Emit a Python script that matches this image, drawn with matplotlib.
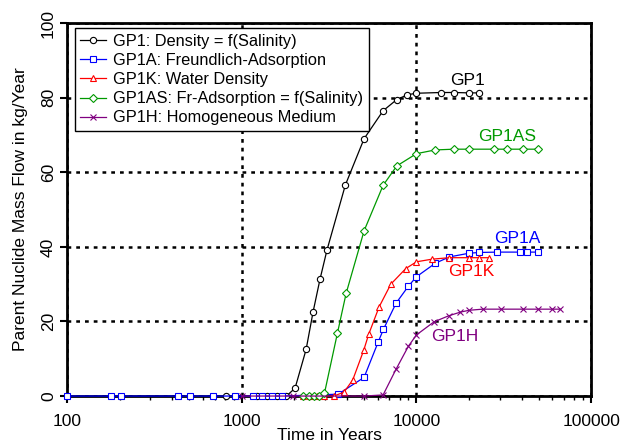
import matplotlib
matplotlib.use("Agg")
import matplotlib.pyplot as plt
from matplotlib.ticker import LogLocator, NullFormatter, FixedLocator

plt.rcParams['font.family'] = ['Liberation Sans', 'DejaVu Sans']

# Mass flow of the parent nuclide for the five model variants
gp1_t = [811, 1230, 1390, 1590, 1800, 2018, 2335, 2560, 2806, 3076, 3917, 5012,
         6440, 7710, 8870, 10000, 13840, 16400, 20000, 22800]
gp1_q = [0, 0, 0, 0, 0, 2.1, 12.5, 22.6, 31.4, 39.2, 56.6, 69.0,
         76.5, 79.5, 80.8, 81.2, 81.4, 81.4, 81.3, 81.3]

gp1a_t = [100, 178, 203, 432, 506, 686, 916, 1155, 1300, 1490, 1690, 3560, 5012,
          6050, 6470, 7640, 9000, 10000, 12800, 15400, 20000, 22800, 29000,
          39200, 42700, 49900]
gp1a_q = [0, 0, 0, 0, 0, 0, 0, 0, 0, 0, 0, 0.5, 5.0,
          14.6, 17.9, 24.9, 29.5, 32.0, 35.6, 37.3, 38.3, 38.5, 38.6,
          38.6, 38.6, 38.6]

gp1k_t = [2250, 2450, 2700, 2950, 3350, 3840, 4315, 4990, 5330, 6110, 7130,
          8690, 10000, 12250, 15400, 20000, 22800, 26100]
gp1k_q = [0, 0, 0, 0, 0, 1.0, 4.3, 12.3, 16.6, 23.9, 30.0,
          34.2, 36.0, 36.7, 37.1, 37.1, 37.1, 37.1]

gp1as_t = [2240, 2410, 2590, 2780, 2975, 3525, 3955, 5012, 6440, 7710, 10000,
           12800, 16400, 20000, 27900, 32900, 40600, 49900]
gp1as_q = [0, 0, 0, 0, 0.8, 16.8, 27.5, 44.3, 56.5, 61.7, 65.0,
           66.0, 66.2, 66.2, 66.2, 66.2, 66.2, 66.2]

gp1h_t = [1000, 1960, 5012, 6440, 7640, 9000, 10000, 12600, 15250, 17800, 20000,
          23900, 30300, 40600, 49900, 59400, 66400]
gp1h_q = [0, 0, 0, 0.3, 7.2, 13.4, 16.4, 19.9, 21.5, 22.5, 23.0,
          23.3, 23.3, 23.3, 23.3, 23.3, 23.3]

green = '#009900'
purple = '#800080'

fig = plt.figure(figsize=(6.21, 4.45), dpi=100)
ax = fig.add_axes([0.108, 0.110, 0.844, 0.838])

common = dict(lw=0.9, ms=4.5, mew=0.8, clip_on=False, zorder=4)
ax.plot(gp1_t, gp1_q, '-o', color='black', mfc='white', label='GP1: Density = f(Salinity)', **common)
ax.plot(gp1a_t, gp1a_q, '-s', color='blue', mfc='white', label='GP1A: Freundlich-Adsorption', **common)
ax.plot(gp1k_t, gp1k_q, '-^', color='red', mfc='white', label='GP1K: Water Density', **common)
ax.plot(gp1as_t, gp1as_q, '-D', color=green, mfc='white', label='GP1AS: Fr-Adsorption = f(Salinity)',
        lw=0.9, ms=4, mew=0.8, clip_on=False, zorder=4)
ax.plot(gp1h_t, gp1h_q, '-x', color=purple, label='GP1H: Homogeneous Medium', **common)

ax.set_xscale('log')
ax.set_xlim(100, 100000)
ax.set_ylim(0, 100)
ax.xaxis.set_major_locator(FixedLocator([100, 1000, 10000, 100000]))
ax.xaxis.set_minor_locator(LogLocator(base=10, subs=range(2, 10)))
ax.xaxis.set_minor_formatter(NullFormatter())
ax.set_xticklabels(['100', '1000', '10000', '100000'])
ax.set_yticks([0, 20, 40, 60, 80, 100])

ax.grid(which='major', color='black', linestyle=(0, (1.5, 2)), lw=1.8)
for s in ax.spines.values():
    s.set_linewidth(2)

ax.tick_params(axis='both', which='major', direction='out', length=5, width=1.5,
               labelsize=12.5, colors='black')
ax.tick_params(axis='x', which='minor', direction='out', length=3, width=1)
ax.tick_params(axis='y', labelrotation=90, pad=3)
for lab in ax.get_yticklabels():
    lab.set_va('center')
ax.tick_params(axis='x', pad=8)

ax.set_xlabel('Time in Years', fontsize=12.5, labelpad=-1)
ax.set_ylabel('Parent Nuclide Mass Flow in kg/Year', fontsize=12.5, labelpad=9)

leg = ax.legend(loc='upper left', bbox_to_anchor=(0.008, 0.995), fontsize=11.8,
                frameon=True, fancybox=False, handlelength=1.6, handletextpad=0.4,
                labelspacing=0.25, borderpad=0.35, borderaxespad=0.2)
leg.get_frame().set_edgecolor('black')
leg.get_frame().set_linewidth(1)
leg.get_frame().set_alpha(1)
leg.set_zorder(5)

# curve labels
ax.text(19500, 84.5, 'GP1', color='black', fontsize=12.5, ha='center', va='center')
ax.text(33000, 69.5, 'GP1AS', color=green, fontsize=12.5, ha='center', va='center')
ax.text(38000, 42.3, 'GP1A', color='blue', fontsize=12.5, ha='center', va='center')
ax.text(20500, 33.4, 'GP1K', color='red', fontsize=12.5, ha='center', va='center')
ax.text(16500, 16.1, 'GP1H', color=purple, fontsize=12.5, ha='center', va='center')

fig.savefig('out.png', dpi=100)
